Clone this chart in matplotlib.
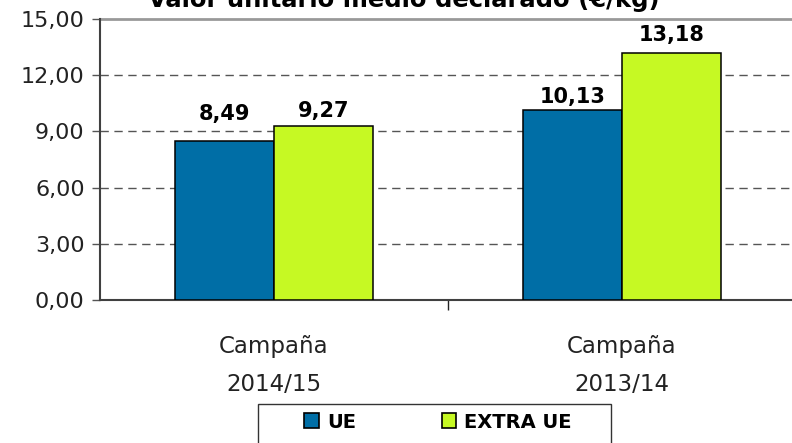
import matplotlib.pyplot as plt
from matplotlib.patches import Patch, Rectangle
import numpy as np

# --- data ---
campanas = ["Campaña\n2014/15", "Campaña\n2013/14"]
ue = [8.49, 10.13]
extra_ue = [9.27, 13.18]
series_names = ["UE", "EXTRA UE"]
yticks = [0, 3, 6, 9, 12, 15]

# --- style ---
c_ue = "#006EA6"
c_extra = "#C6F923"
# gap (points) between bar top and label baseline, per bar as drawn in the original
lab_off_ue = [15, 5]
lab_off_extra = [7, 8.5]

plt.rcParams['font.family'] = ['DejaVu Sans']

fig = plt.figure(figsize=(7.92, 4.43), dpi=100)
ax = fig.add_axes([100/792, 1 - 300/443, 696/792, 281/443])

x = np.arange(len(campanas))
w = 0.285
b1 = ax.bar(x - w/2, ue, w, color=c_ue, edgecolor='black', linewidth=1.1, zorder=3)
b2 = ax.bar(x + w/2, extra_ue, w, color=c_extra, edgecolor='black', linewidth=1.1, zorder=3)

def fmt(v):
    return f"{v:.2f}".replace('.', ',')

for bars, vals, offs in [(b1, ue, lab_off_ue), (b2, extra_ue, lab_off_extra)]:
    for r, v, o in zip(bars, vals, offs):
        ax.annotate(fmt(v), (r.get_x() + r.get_width()/2, v), xytext=(0, o),
                    textcoords='offset points', ha='center', va='baseline',
                    fontsize=15, fontweight='bold', color='black')

ax.set_xlim(-0.5, len(campanas) - 0.5)
ax.set_ylim(0, 15)
ax.set_yticks(yticks)
ax.set_yticklabels([fmt(t) for t in yticks], fontsize=16, color='#222222')
ax.tick_params(axis='y', length=6, width=1, color='#555555', pad=5)

ax.set_xticks(x)
ax.set_xticklabels(campanas, fontsize=16.5, linespacing=1.85, color='#222222')
ax.tick_params(axis='x', which='major', length=0, pad=25)
ax.set_xticks([0.5], minor=True)
ax.tick_params(axis='x', which='minor', length=7, width=1, color='#222222')

# gridlines (dashed) and top line
for t in yticks[1:-1]:
    ax.axhline(t, color='#555555', linestyle=(0, (6, 4)), linewidth=1, zorder=1)
ax.axhline(15, color='#999999', linewidth=2, zorder=1, clip_on=False)

ax.spines['top'].set_visible(False)
ax.spines['right'].set_visible(False)
ax.spines['left'].set_color('#404040')
ax.spines['left'].set_linewidth(1.5)
ax.spines['bottom'].set_color('#404040')
ax.spines['bottom'].set_linewidth(1.5)

# title (partially cut off at the top, as in the original)
fig.text(404/792, 1 - 7/443, "Valor unitario medio declarado (€/kg)",
         ha='center', va='baseline', fontsize=17.5, fontweight='bold')

# legend
fig.patches.append(Rectangle((258/792, -0.05), (611-258)/792, 0.05 + 39/443,
                             transform=fig.transFigure, facecolor='white',
                             edgecolor='#333333', linewidth=1, zorder=0))
handles = [Patch(facecolor=c_ue, edgecolor='black', linewidth=1.2),
           Patch(facecolor=c_extra, edgecolor='black', linewidth=1.2)]
fig.legend(handles, series_names, loc='center', bbox_to_anchor=(438/792, 1 - 422/443),
           ncol=2, frameon=False, prop={'weight': 'bold', 'size': 14},
           handlelength=0.77, handleheight=0.77, handletextpad=0.4,
           columnspacing=4.4, borderpad=0)

fig.savefig("out.png", dpi=100)
